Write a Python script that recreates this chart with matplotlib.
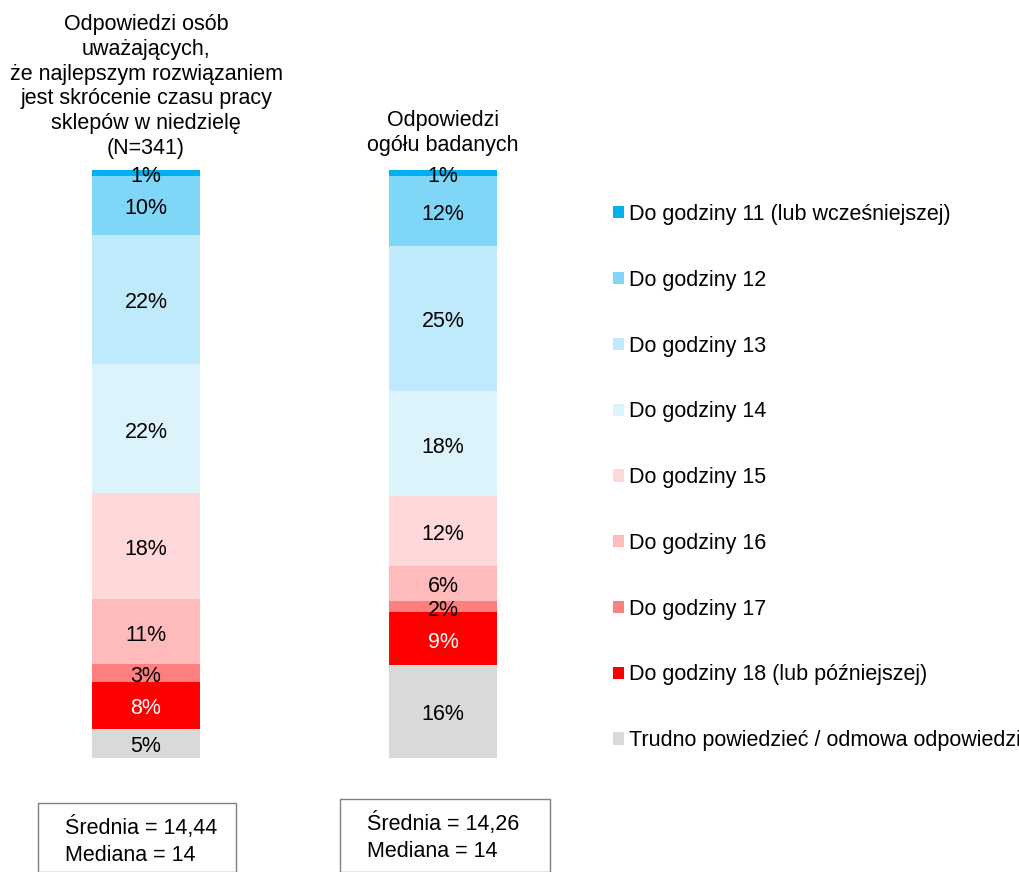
import matplotlib
matplotlib.use("Agg")
import matplotlib.pyplot as plt
from matplotlib.patches import Patch, Rectangle
import numpy as np

plt.rcParams['font.family'] = ['Liberation Sans', 'DejaVu Sans']

categories = ["Do godziny 11 (lub wcześniejszej)", "Do godziny 12", "Do godziny 13",
              "Do godziny 14", "Do godziny 15", "Do godziny 16", "Do godziny 17",
              "Do godziny 18 (lub późniejszej)", "Trudno powiedzieć / odmowa odpowiedzi"]
colors = ["#00B0F0", "#7FD6F7", "#BFEAFB", "#DDF3FC", "#FFD9D9", "#FFBBBB",
          "#FF7F7F", "#FF0000", "#D9D9D9"]
text_colors = ["black"] * 7 + ["white", "black"]

group_titles = ["Odpowiedzi osób\nuważających,\nże najlepszym rozwiązaniem\njest skrócenie czasu pracy\nsklepów w niedzielę\n(N=341)",
                "Odpowiedzi\nogółu badanych"]
values_group1 = [1, 10, 22, 22, 18, 11, 3, 8, 5]
values_group2 = [1, 12, 25, 18, 12, 6, 2, 9, 16]
stats_texts = ["Średnia = 14,44\nMediana = 14", "Średnia = 14,26\nMediana = 14"]

W, H = 1020, 872
fig = plt.figure(figsize=(W / 100, H / 100), dpi=100)

# axes for bars: pixel region x 0..600, y 170..758
top_px, bot_px = 170, 758
ax = fig.add_axes([0, 1 - bot_px / H, 600 / W, (bot_px - top_px) / H])
spacing = 297.0
ax.set_xlim(-146 / spacing, (600 - 146) / spacing)
ax.set_ylim(100, 0)
ax.axis('off')

bar_w = 108 / spacing
groups = [values_group1, values_group2]
title_offsets = [-1.85, -2.4]
label_shift = 0.6
fs = 15.5
for gi, vals in enumerate(groups):
    vals = np.array(vals, dtype=float)
    norm = vals / vals.sum() * 100
    bottom = 0.0
    for si, (v, nv) in enumerate(zip(vals, norm)):
        ax.bar(gi, nv, bottom=bottom, width=bar_w, color=colors[si], linewidth=0)
        ax.text(gi, bottom + nv / 2 + label_shift, f"{int(v)}%", ha='center', va='center',
                fontsize=fs, color=text_colors[si])
        bottom += nv
    ax.text(gi, title_offsets[gi], group_titles[gi], ha='center', va='bottom', fontsize=fs,
            linespacing=1.24)

# legend
handles = [Patch(facecolor=c, edgecolor='none') for c in colors]
fig.legend(handles, categories, loc='upper left', bbox_to_anchor=(613 / W, 1 - 204 / H),
           frameon=False, fontsize=fs, labelspacing=2.08, handlelength=0.5,
           handleheight=0.5, handletextpad=0.25, borderpad=0, borderaxespad=0)

# stats boxes
boxes = [(38, 803, 198), (340, 799, 210)]
for (x0, y0, w), txt in zip(boxes, stats_texts):
    fig.patches.append(Rectangle((x0 / W, 0), w / W, 1 - y0 / H, transform=fig.transFigure,
                                 fill=False, edgecolor='#7F7F7F', linewidth=1.0))
    fig.text((x0 + 27) / W, 1 - (y0 + 13) / H, txt, ha='left', va='top', fontsize=fs,
             linespacing=1.4)

fig.savefig("out.png", dpi=100)
